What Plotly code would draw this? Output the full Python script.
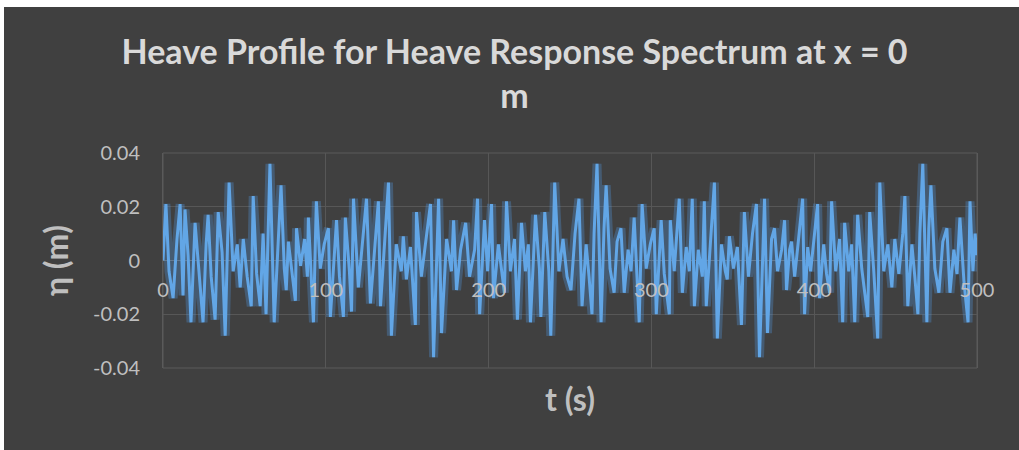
import plotly.graph_objects as go

# ---- data (time in s, heave in m) ----
t_0_100 = [0, 1.8, 3.7, 6.2, 8.6, 10.5, 12.3, 13.5, 15.4, 17.2, 19.7, 22.2, 24.6, 26.5, 27.7,
           29.6, 32.0, 33.9, 36.3, 38.2, 40.6, 43.1, 45.6, 47.4, 49.3, 51.7, 54.2, 55.4, 57.5,
           59.7, 61.5, 63.3, 65.7, 68.3, 71.0, 72.5, 74.5, 75.7, 77.0, 79.0, 81.3, 82.0, 84.5,
           87.0, 88.7, 89.3, 92.4, 94.2, 96.6, 99.0]
eta_0_100 = [0.000, 0.021, -0.004, -0.014, 0.008, 0.021, -0.013, 0.019, 0.002, -0.023, 0.014,
             -0.005, -0.023, 0.006, 0.017, -0.006, -0.022, 0.018, 0.003, -0.028, 0.029, -0.004,
             0.006, -0.010, 0.008, -0.006, -0.017, 0.024, -0.005, -0.017, 0.010, -0.020, 0.036,
             -0.023, 0.012, 0.028, -0.003, -0.011, 0.007, -0.004, -0.015, 0.012, -0.002, 0.008,
             -0.006, 0.016, -0.023, 0.022, -0.003, 0.006]

t_100_200 = [101.6, 102.8, 105.3, 106.6, 108.4, 110.8, 112.0, 114.5, 115.8, 117.0, 120.0, 122.5,
             125.0, 127.4, 129.9, 132.3, 133.6, 136.0, 138.5, 140.3, 143.3, 146.4, 147.6, 149.5,
             152.0, 155.0, 155.7, 158.7, 161.8, 164.3, 166.2, 169.3, 171.1, 174.2, 177.2, 178.5,
             180.3, 182.8, 185.9, 188.3, 191.4, 193.2, 194.5, 197.5, 199.4]
eta_100_200 = [0.012, -0.021, 0.004, 0.015, -0.006, -0.021, 0.016, -0.004, -0.019, 0.023, -0.010,
               0.006, 0.023, -0.016, 0.005, 0.022, -0.017, 0.004, 0.029, -0.028, 0.006, -0.004,
               0.009, -0.007, 0.005, -0.024, 0.018, -0.006, 0.010, 0.021, -0.036, 0.023, -0.027,
               0.008, -0.004, 0.015, -0.011, 0.004, 0.014, -0.006, 0.004, 0.023, -0.020, 0.015,
               -0.004]

t_200_300 = [201.8, 203.0, 206.0, 209.7, 211.0, 213.4, 215.9, 217.7, 220.2, 222.6, 224.4, 225.7,
             228.8, 231.2, 232.1, 234.5, 237.0, 238.2, 240.6, 243.2, 245.7, 248.2, 250.6, 253.1,
             255.5, 257.4, 259.9, 261.7, 263.5, 264.8, 266.6, 269.1, 270.9, 272.2, 274.6, 277.1,
             278.9, 281.3, 283.3, 285.7, 287.5, 289.4, 292.5, 294.3, 296.8, 299.3]
eta_200_300 = [0.021, -0.014, 0.006, -0.012, 0.022, -0.004, 0.008, -0.022, 0.014, -0.004, 0.006,
               -0.023, 0.017, -0.003, -0.021, 0.018, -0.004, -0.028, 0.029, -0.004, 0.008, -0.006,
               -0.011, 0.010, 0.023, -0.017, 0.006, -0.006, -0.020, 0.010, 0.036, -0.023, 0.012,
               0.028, -0.003, -0.012, 0.007, 0.012, -0.012, 0.004, -0.004, 0.016, -0.023, 0.021,
               -0.003, 0.006]

t_300_400 = [301.7, 303.0, 304.8, 306.0, 307.9, 311.0, 311.6, 314.0, 317.1, 319.0, 321.4, 323.3,
             325.1, 326.4, 328.8, 331.3, 332.5, 333.7, 336.2, 338.7, 340.5, 343.0, 345.4, 346.6,
             347.9, 350.4, 352.8, 355.3, 357.1, 359.6, 362.1, 364.5, 366.4, 369.5, 371.3, 373.8,
             375.6, 377.5, 380.0, 381.8, 383.0, 384.9, 386.1, 388.0, 390.4, 392.9, 394.1, 396.0,
             397.8]
eta_300_400 = [0.012, -0.020, 0.004, 0.015, -0.005, -0.020, 0.015, -0.004, 0.023, -0.012, 0.005,
               -0.004, 0.023, -0.017, 0.004, -0.006, 0.022, -0.017, 0.006, 0.029, -0.029, 0.006,
               -0.004, -0.007, 0.009, -0.003, 0.005, -0.024, 0.018, -0.006, 0.010, 0.021, -0.036,
               0.023, -0.027, 0.008, 0.012, -0.004, 0.004, 0.015, -0.011, 0.004, 0.007, -0.006,
               0.008, 0.023, -0.020, 0.005, -0.004]

t_400_500 = [400.2, 402.1, 403.3, 405.8, 407.6, 409.5, 410.7, 413.2, 415.6, 417.5, 418.7, 421.2,
             423.0, 424.9, 426.7, 429.2, 432.9, 434.1, 436.6, 439.0, 440.3, 442.7, 445.2, 447.7,
             449.5, 452.0, 454.4, 455.7, 457.5, 460.0, 461.8, 463.7, 464.9, 466.7, 469.2, 470.4,
             471.7, 474.1, 476.6, 479.0, 481.5, 483.4, 485.8, 487.7, 489.5, 492.0, 494.5, 495.7,
             497.5, 498.8, 500.0]
eta_400_500 = [0.010, 0.021, -0.014, 0.006, -0.005, -0.012, 0.022, -0.004, 0.008, -0.023, 0.014,
               -0.004, 0.006, -0.023, 0.017, -0.003, -0.021, 0.018, -0.004, -0.029, 0.029, -0.004,
               0.006, -0.010, 0.008, -0.005, 0.010, 0.024, -0.017, 0.006, -0.006, -0.020, 0.010,
               0.036, -0.023, 0.012, 0.028, -0.003, -0.012, 0.007, 0.012, -0.012, 0.004, -0.005,
               0.016, -0.008, -0.023, 0.022, -0.004, 0.010, 0.002]

x_ticks = [0, 100, 200, 300, 400, 500]
y_ticks = [-0.04, -0.02, 0, 0.02, 0.04]
y_tick_labels = ["-0.04", "-0.02", "0", "0.02", "0.04"]

title_text = "Heave Profile for Heave Response Spectrum at x = 0<br>m"
x_title = "t (s)"
y_title = "η (m)"

t = t_0_100 + t_100_200 + t_200_300 + t_300_400 + t_400_500
eta = eta_0_100 + eta_100_200 + eta_200_300 + eta_300_400 + eta_400_500

BG = "#404040"
GRID = "#575757"
TXT = "#d9d9d9"
TICK = "#bfbfbf"
FONT = "Lato, 'Open Sans', sans-serif"

fig = go.Figure()
# glow
fig.add_trace(go.Scatter(x=t, y=eta, mode="lines",
                         line=dict(color="rgba(80,150,220,0.32)", width=9),
                         hoverinfo="skip", showlegend=False))
fig.add_trace(go.Scatter(x=t, y=eta, mode="lines",
                         line=dict(color="#62a6e6", width=3),
                         showlegend=False))

# the figure sits 4 px from the left and 7 px from the top of the page (white edge)
W, H = 1015, 443
ml, mr, mt, mb = 159, 42, 146, 82

fig.update_layout(
    width=W, height=H,
    margin=dict(l=ml, r=mr, t=mt, b=mb),
    paper_bgcolor=BG, plot_bgcolor=BG,
    title=dict(text=title_text, x=0.503, xanchor="center", xref="container",
               y=0.871, yanchor="top", yref="container",
               font=dict(family=FONT, size=34, color=TXT, weight="bold")),
    xaxis=dict(range=[0, 500], tickvals=x_ticks, ticktext=[str(v) for v in x_ticks],
               showgrid=True, gridcolor=GRID, gridwidth=1,
               zeroline=False, showline=False, ticks="",
               anchor="free", position=0.43, automargin=False,
               tickfont=dict(family=FONT, size=20, color=TICK),
               title=dict(text=x_title, font=dict(family=FONT, size=32, color=TICK, weight="bold"),
                          standoff=89)),
    yaxis=dict(range=[-0.04, 0.04], tickvals=y_ticks, ticktext=y_tick_labels,
               showgrid=True, gridcolor=GRID, gridwidth=1,
               zeroline=True, zerolinecolor="#6e6e6e", zerolinewidth=1,
               showline=True, linecolor="#5a5a5a", mirror=True, ticks="",
               ticklabelstandoff=18, automargin=False,
               tickfont=dict(family=FONT, size=20, color=TICK),
               title=dict(text=y_title, font=dict(family=FONT, size=32, color=TICK, weight="bold"),
                          standoff=14)),
)

# plot-area frame
fig.add_shape(type="rect", xref="paper", yref="paper", x0=0, x1=1, y0=0, y1=1,
              line=dict(color="#5a5a5a", width=1), fillcolor="rgba(0,0,0,0)", layer="below")

page_css = ("document.body.style.margin='7px 0 0 4px';"
            "document.body.style.overflow='hidden';"
            "document.body.style.background='#ffffff';")
fig.write_html("out.html", post_script=page_css)
